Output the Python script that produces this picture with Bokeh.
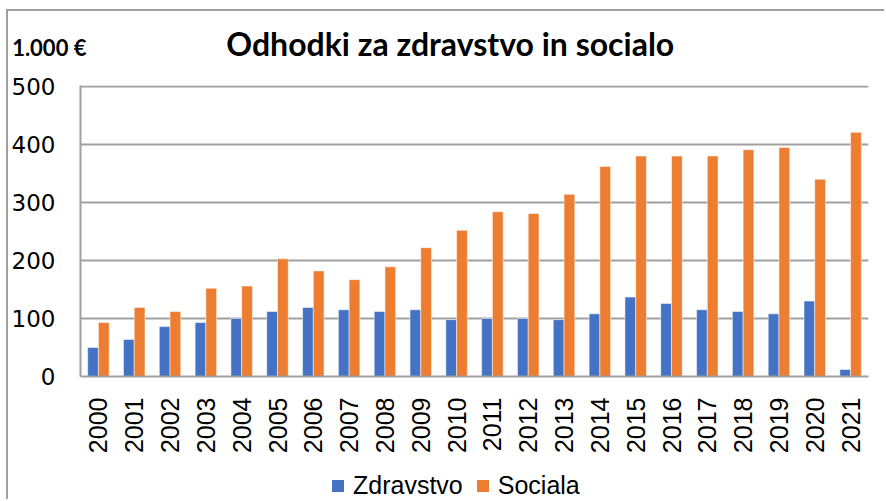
import math
from bokeh.plotting import figure
from bokeh.layouts import column
from bokeh.models import (ColumnDataSource, Legend, LegendItem, Label, Range1d,
                          FactorRange, FixedTicker)
from bokeh.transform import dodge
from bokeh.embed import file_html
from bokeh.resources import INLINE

years = [str(y) for y in range(2000, 2022)]
zdravstvo = [50, 64, 86, 93, 100, 112, 119, 115, 112, 115, 98, 100, 100, 98, 108, 137, 126, 115, 112, 108, 130, 12]
sociala = [93, 119, 112, 152, 156, 203, 182, 167, 189, 222, 252, 284, 281, 314, 362, 380, 380, 380, 391, 395, 340, 421]
y_ticks = [0, 100, 200, 300, 400, 500]
title_text = "Odhodki za zdravstvo in socialo"
unit_text = "1.000 €"
series_names = ["Zdravstvo", "Sociala"]
colors = ["#4472C4", "#ED7D31"]

GRID = "#A0A0A0"
W = 878
src = ColumnDataSource(dict(year=years, zdr=zdravstvo, soc=sociala))

# ---- header: title + unit (unit shown as the header's axis tick label) ----
hdr = figure(width=W, height=63, x_range=Range1d(79, 868), y_range=Range1d(74, 11),
             x_axis_location=None, y_axis_location="left",
             output_backend="svg", toolbar_location=None,
             min_border_left=71, min_border_right=18, min_border_top=0, min_border_bottom=0)
hdr.grid.visible = False
hdr.outline_line_color = None
hdr.yaxis.ticker = FixedTicker(ticks=[47])
hdr.yaxis.major_label_overrides = {47: unit_text}
hdr.yaxis.axis_line_color = None
hdr.yaxis.major_tick_line_color = None
hdr.yaxis.minor_tick_line_color = None
hdr.yaxis.major_tick_out = 0
hdr.yaxis.major_tick_in = 0
hdr.yaxis.major_label_standoff = -6
hdr.yaxis.major_label_text_font = "Lato"
hdr.yaxis.major_label_text_font_style = "bold"
hdr.yaxis.major_label_text_font_size = "22px"
hdr.yaxis.major_label_text_color = "black"
hdr.add_layout(Label(x=225, y=43, text=title_text, text_font="Lato", text_font_style="bold",
                     text_font_size="32px", text_color="black", text_baseline="middle",
                     text_align="left"))

# ---- main chart ----
p = figure(width=W, height=394, x_range=FactorRange(*years, range_padding=0),
           y_range=Range1d(0, 501.7), output_backend="svg", toolbar_location=None,
           min_border_left=71, min_border_right=18, min_border_top=11, min_border_bottom=92)
p.outline_line_color = None
p.background_fill_color = "white"
p.border_fill_color = "white"

p.vbar(x=dodge('year', -0.15, range=p.x_range), top='zdr', width=0.3, source=src,
       fill_color=colors[0], line_color="white", line_alpha=0.5, line_width=1)
p.vbar(x=dodge('year', 0.15, range=p.x_range), top='soc', width=0.3, source=src,
       fill_color=colors[1], line_color="white", line_alpha=0.5, line_width=1)

p.xgrid.grid_line_color = None
p.ygrid.grid_line_color = GRID
p.ygrid.grid_line_width = 2
p.yaxis.ticker = FixedTicker(ticks=y_ticks)

p.yaxis.axis_line_color = GRID
p.yaxis.axis_line_width = 2
p.yaxis.major_tick_line_color = None
p.yaxis.minor_tick_line_color = None
p.yaxis.major_tick_out = 0
p.yaxis.major_tick_in = 0
p.yaxis.major_label_standoff = 25
p.yaxis.major_label_text_font = "DejaVu Sans"
p.yaxis.major_label_text_font_size = "23px"
p.yaxis.major_label_text_color = "black"

p.xaxis.axis_line_color = GRID
p.xaxis.axis_line_width = 2
p.xaxis.major_tick_line_color = None
p.xaxis.minor_tick_line_color = None
p.xaxis.major_tick_out = 0
p.xaxis.major_tick_in = 0
p.xaxis.major_label_orientation = math.pi / 2
p.xaxis.major_label_standoff = 21
p.xaxis.major_label_text_font = "Liberation Sans"
p.xaxis.major_label_text_font_size = "25px"
p.xaxis.major_label_text_color = "black"

# ---- legend strip (proxy bars lie outside its y range, so only the legend shows) ----
lg = figure(width=W, height=33, x_range=FactorRange(*years, range_padding=0),
            y_range=Range1d(1000, 1001), x_axis_location=None, y_axis_location=None,
            output_backend="svg", toolbar_location=None,
            min_border_left=71, min_border_right=18, min_border_top=0, min_border_bottom=0)
lg.grid.visible = False
lg.outline_line_color = None
k1 = lg.vbar(x=dodge('year', -0.15, range=lg.x_range), top='zdr', width=0.3, source=src,
             fill_color=colors[0], line_color=None)
k2 = lg.vbar(x=dodge('year', 0.15, range=lg.x_range), top='soc', width=0.3, source=src,
             fill_color=colors[1], line_color=None)
legend = Legend(items=[LegendItem(label=series_names[0], renderers=[k1]),
                       LegendItem(label=series_names[1], renderers=[k2])],
                orientation="horizontal", location=(250, 1),
                glyph_width=15, glyph_height=15, label_standoff=8, spacing=12,
                padding=0, margin=0, border_line_color=None, background_fill_alpha=0,
                label_text_font="Liberation Sans", label_text_font_size="25px",
                label_text_color="black")
lg.add_layout(legend, "center")

layout = column(hdr, p, lg, spacing=0)
layout.margin = (11, 0, 0, 8)
layout.styles = {"box-shadow": "-2px -2px 0 0 #A0A0A0"}

open("out.html", "w").write(file_html(layout, INLINE))
